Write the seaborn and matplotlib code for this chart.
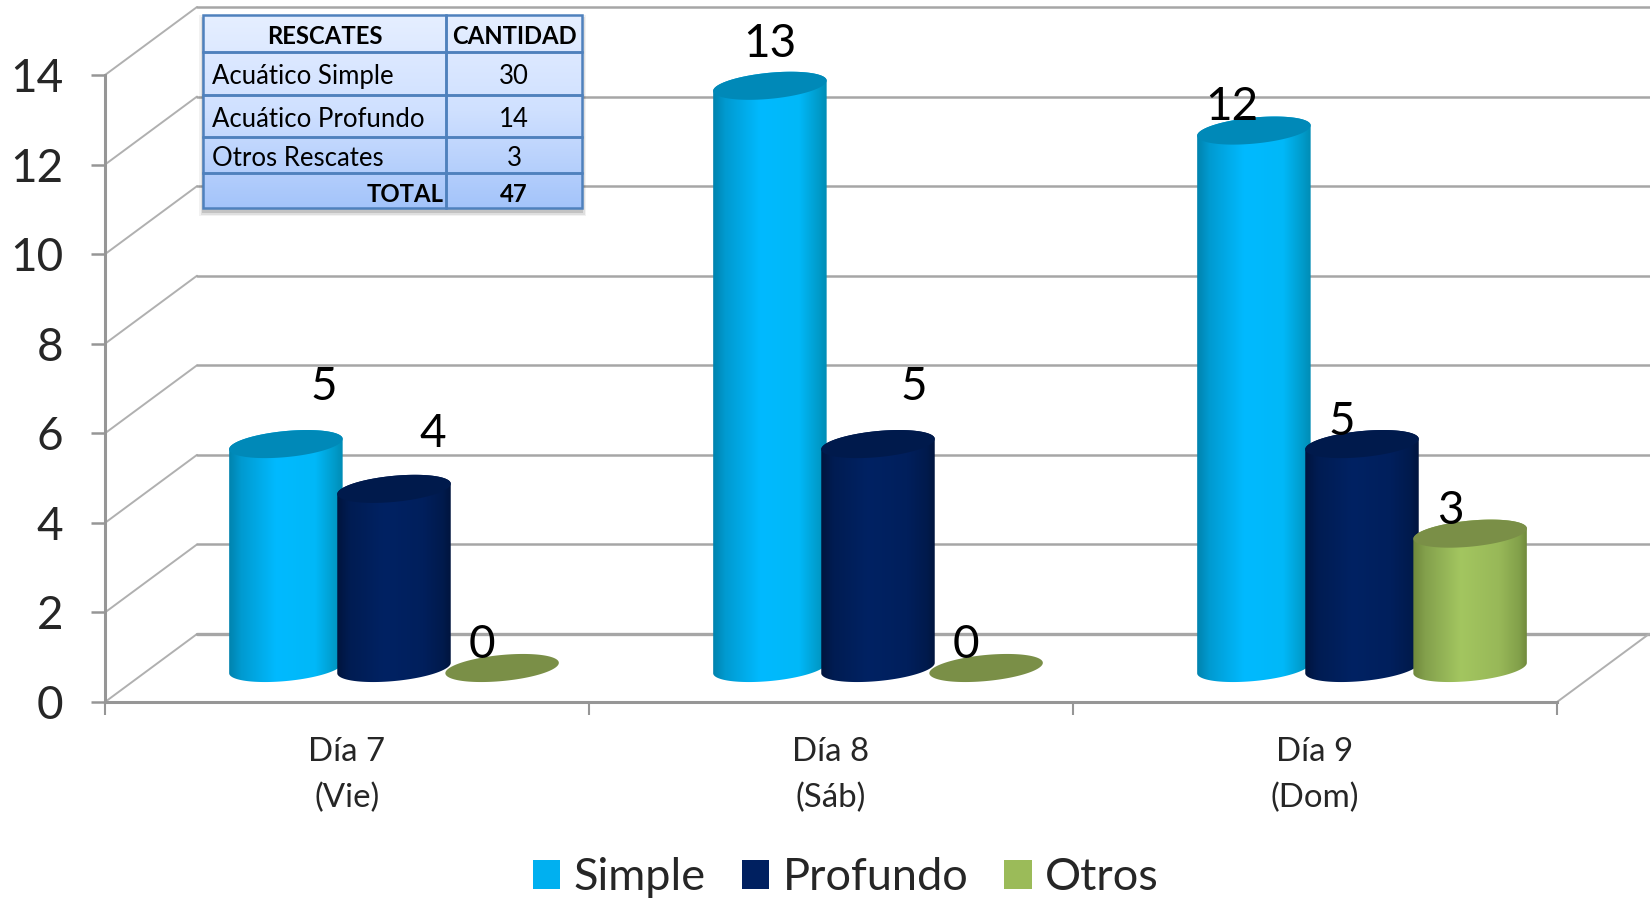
import numpy as np
import pandas as pd
import matplotlib
matplotlib.use('Agg')
import matplotlib.pyplot as plt
from matplotlib.colors import LinearSegmentedColormap
from matplotlib.patches import Patch, Rectangle
from matplotlib.path import Path
from matplotlib.table import Table
from matplotlib.transforms import IdentityTransform
import seaborn as sns

days = ['Día 7\n(Vie)', 'Día 8\n(Sáb)', 'Día 9\n(Dom)']
series = ['Simple', 'Profundo', 'Otros']
simple = [5, 13, 12]
profundo = [4, 5, 5]
otros = [0, 0, 3]
y_ticks = [0, 2, 4, 6, 8, 10, 12, 14]

table_header = ['RESCATES', 'CANTIDAD']
table_names = ['Acuático Simple', 'Acuático Profundo', 'Otros Rescates', 'TOTAL']
table_values = ['30', '14', '3', '47']

legend_colors = ['#00B0F0', '#002060', '#9BBB59']
top_colors = ['#0089B8', '#001A4C', '#7A8F47']
body_colors = [
    [(0, '#007FA8'), (0.12, '#009AD0'), (0.42, '#00BAFF'), (0.75, '#00B8F8'), (0.92, '#009AC8'), (1, '#0088B0')],
    [(0, '#00133A'), (0.12, '#001C52'), (0.42, '#002263'), (0.75, '#001F5C'), (0.92, '#001A4C'), (1, '#00133A')],
    [(0, '#6C8439'), (0.12, '#83A04C'), (0.42, '#A3C660'), (0.75, '#98B858'), (0.92, '#82A04A'), (1, '#6C8439')],
]

W, H = 1650, 898
GRID = '#A6A6A6'
AXIS = '#969696'

sns.set_style('white')
plt.rcParams['font.family'] = ['Lato', 'DejaVu Sans']

df = pd.DataFrame({
    'dia': days * 3,
    'tipo': np.repeat(series, 3),
    'cantidad': simple + profundo + otros,
})


def fig_box(left, top, right, bottom):
    return [left / W, 1 - bottom / H, (right - left) / W, (bottom - top) / H]


fig = plt.figure(figsize=(W / 100, H / 100), dpi=100, facecolor='white')

# front plane of the fake 3D box
ax = fig.add_axes(fig_box(105, 75, 1557, 702))
ax.set_xlim(-0.5, 2.5)
ax.set_ylim(0, 14)
ax.patch.set_alpha(0)
sns.despine(ax=ax, top=True, right=True)
for side in ['left', 'bottom']:
    ax.spines[side].set_color(AXIS)
    ax.spines[side].set_linewidth(2.2)
ax.set_yticks(y_ticks)
ax.set_xticks([-0.5, 0.5, 1.5, 2.5])
ax.set_xticklabels([])
ax.set_xticks([0, 1, 2], labels=days, minor=True)
ax.tick_params(axis='y', length=10, width=1.8, color=AXIS, labelsize=33, pad=20, left=True)
ax.tick_params(axis='x', which='major', length=9, width=1.5, color=AXIS, bottom=True)
ax.tick_params(axis='x', which='minor', length=0, labelsize=23.8, pad=25.5)
for lab in ax.get_xticklabels(minor=True):
    lab.set_linespacing(1.62)

# back wall, floor and side lines
dx, dy = 92, 68
px = IdentityTransform()
for v in y_ticks:
    x0, y0 = ax.transData.transform((-0.5, v))
    lw = 2.4 if v == 0 else 1.8
    ax.plot([x0, x0 + dx], [y0, y0 + dy], color='#B0B0B0', lw=1.4, transform=px, clip_on=False)
    ax.plot([x0 + dx, W], [y0 + dy, y0 + dy], color=GRID, lw=lw, transform=px, clip_on=False)
x1, y1 = ax.transData.transform((2.5, 0))
ax.plot([x1, x1 + dx], [y1, y1 + dy], color='#B0B0B0', lw=1.4, transform=px, clip_on=False)

# bars stand half way into the box
ax2 = fig.add_axes(fig_box(105 + 47, 41, 1557 + 47, 702 - 34))
ax2.set_ylim(0, 14)
sns.barplot(data=df, x='dia', y='cantidad', hue='tipo', hue_order=series, order=days,
            palette=legend_colors, width=0.67, gap=0, legend=False, ax=ax2)
ax2.set_xlim(-0.5, 2.5)
ax2.set_ylim(0, 14)
ax2.axis('off')
ax2.patch.set_alpha(0)
ax2.set_autoscale_on(False)

A, B = 57, 13
PHI = np.radians(5.5)


def ellipse(cx, cy, t):
    x = A * np.cos(t) * np.cos(PHI) - B * np.sin(t) * np.sin(PHI)
    y = A * np.cos(t) * np.sin(PHI) + B * np.sin(t) * np.cos(PHI)
    return np.column_stack([cx + x, cy + y])


# label shift from the cylinder top, in pixels
label_shift = {
    (0, 0): (38, 57), (0, 1): (39, 55), (0, 2): (-20, 23),
    (1, 0): (0, 42), (1, 1): (36, 57), (1, 2): (-20, 23),
    (2, 0): (-22, 24), (2, 1): (-20, 22), (2, 2): (-20, 23),
}

for s, container in enumerate(ax2.containers):
    cmap = LinearSegmentedColormap.from_list('c%d' % s, body_colors[s])
    for d, bar in enumerate(container):
        bar.set_visible(False)
        val = bar.get_height()
        cx, base = ax2.transData.transform((bar.get_x() + bar.get_width() / 2, 0))
        _, top = ax2.transData.transform((0, val))
        z = 5 + s * 2
        if val > 0:
            lower = ellipse(cx, base, np.linspace(np.pi, 2 * np.pi, 60))
            upper = ellipse(cx, top, np.linspace(0, np.pi, 60))
            outline = Path(np.vstack([lower, upper, lower[:1]]), closed=True)
            im = ax2.imshow(np.linspace(0, 1, 256)[None, :], cmap=cmap, aspect='auto',
                            extent=(cx - A - 2, cx + A + 2, base - 30, top + 30),
                            transform=px, zorder=z, interpolation='bilinear')
            im.set_clip_box(fig.bbox)
            im.set_clip_path(outline, px)
        lid = ellipse(cx, top, np.linspace(0, 2 * np.pi, 120))
        ax2.fill(lid[:, 0], lid[:, 1], color=top_colors[s], lw=0, transform=px, zorder=z + 1, clip_on=False)
        sx, sy = label_shift[(d, s)]
        ax2.text(cx + sx, top + sy, '%d' % val, fontsize=33, ha='center', va='center',
                 transform=px, zorder=20, color='black', clip_on=False)

# small summary table
for i, alpha in enumerate([0.05, 0.08, 0.12]):
    off = 4 - i * 1.5
    fig.add_artist(Rectangle(((203 - off) / W, 1 - (208 + off + 4) / H), (379 + 2 * off) / W, (193 + 2 * off) / H,
                             transform=fig.transFigure, facecolor='black', alpha=alpha, lw=0, zorder=3))

ax3 = fig.add_axes(fig_box(203, 15, 582, 208), zorder=5)
table_cmap = LinearSegmentedColormap.from_list('tbl', ['#E6EFFF', '#CFE0FF', '#A4C4FA'])
ax3.imshow(np.linspace(0, 1, 200)[:, None], cmap=table_cmap, aspect='auto', extent=(0, 1, 0, 1))
ax3.set_xlim(0, 1)
ax3.set_ylim(0, 1)
ax3.axis('off')

row_h = np.array([37, 43, 42, 36, 35]) / 193
col_w = [243 / 379, 136 / 379]
tbl = Table(ax3, bbox=[0, 0, 1, 1])
rows = [table_header] + [[a, b] for a, b in zip(table_names, table_values)]
y_top = 1.0
for r, row in enumerate(rows):
    y_mid = y_top - row_h[r] / 2 - 3.5 / 193
    y_top -= row_h[r]
    bold = r == 0 or r == 4
    for c, txt in enumerate(row):
        cell = tbl.add_cell(r, c, col_w[c], row_h[r], facecolor='none', edgecolor='#4F81BD')
        cell.set_linewidth(1.8)
        xpos = col_w[0] + col_w[1] / 2 if c == 1 else col_w[0] / 2
        ha = 'center'
        if c == 0 and 1 <= r <= 3:
            xpos, ha = 9 / 379, 'left'
        if c == 0 and r == 4:
            xpos, ha = col_w[0] - 2 / 379, 'right'
        ax3.text(xpos, y_mid, txt, ha=ha, va='center', fontsize=17.2 if bold else 18.5,
                 fontweight='bold' if bold else 'normal', color='black', zorder=10)
ax3.add_table(tbl)

handles = [Patch(facecolor=col, lw=0) for col in legend_colors]
fig.legend(handles, series, ncol=3, loc='center', bbox_to_anchor=(846 / W, 1 - 878 / H), frameon=False,
           fontsize=32.5, handlelength=0.6, handleheight=0.6, handletextpad=0.3, columnspacing=0.8,
           borderpad=0)

fig.savefig('out.png', dpi=100, facecolor='white')
